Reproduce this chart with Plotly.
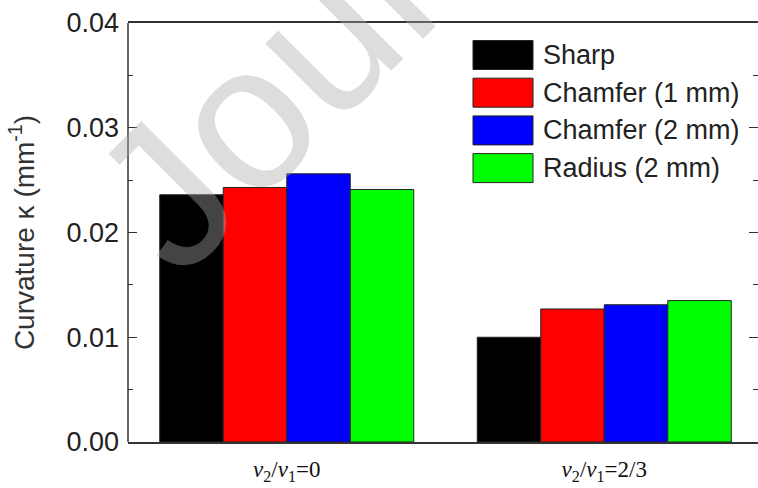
import plotly.graph_objects as go

# Data
categories = ["v2/v1=0", "v2/v1=2/3"]
tick_labels = ["<i>v</i><sub>2</sub>/<i>v</i><sub>1</sub>=0",
               "<i>v</i><sub>2</sub>/<i>v</i><sub>1</sub>=2/3"]
series_names = ["Sharp", "Chamfer (1 mm)", "Chamfer (2 mm)", "Radius (2 mm)"]
sharp = [0.0236, 0.0100]
chamfer_1mm = [0.0243, 0.0127]
chamfer_2mm = [0.0256, 0.0131]
radius_2mm = [0.0241, 0.0135]
colors = ["#000000", "#ff0000", "#0000ff", "#00ff00"]

W, H = 758, 488
ML, MR, MT, MB = 128, 0, 23, 46
PW, PH = W - ML - MR, H - MT - MB


def px(x):
    return (x - ML) / PW


def py(y):
    return (H - MB - y) / PH


fig = go.Figure()
for name, vals, col in zip(series_names, [sharp, chamfer_1mm, chamfer_2mm, radius_2mm], colors):
    fig.add_trace(go.Bar(
        x=[0, 1], y=vals, name=name, marker=dict(color=col, line=dict(color="#222", width=1)),
        showlegend=False,
    ))

# left frame line (the y axis itself has no line so that only ticks are mirrored)
shapes = [dict(type="line", xref="paper", yref="paper", x0=0, x1=0, y0=0, y1=1,
               line=dict(color="#333", width=1.5))]
annotations = []

# legend boxes
row_centers = [55, 92.7, 130.4, 168.1]
for name, col, yc in zip(series_names, colors, row_centers):
    shapes.append(dict(type="rect", xref="paper", yref="paper",
                       x0=px(473), x1=px(533), y0=py(yc + 14.5), y1=py(yc - 14.5),
                       fillcolor=col, line=dict(color="#222", width=1)))
    annotations.append(dict(xref="paper", yref="paper", x=px(541), y=py(yc),
                            xanchor="left", yanchor="middle", showarrow=False, text=name,
                            font=dict(family="Liberation Sans, Arial", size=27, color="#222")))

# diagonal watermark
annotations.append(dict(xref="paper", yref="paper", x=px(366), y=py(-6), xanchor="center",
                        yanchor="middle", showarrow=False, text="Journal", textangle=-45,
                        font=dict(family="Liberation Sans, Arial", size=205,
                                  color="rgba(170,170,170,0.4)")))

fig.update_layout(
    width=W, height=H,
    margin=dict(l=ML, r=MR, t=MT, b=MB, pad=0),
    paper_bgcolor="white", plot_bgcolor="white",
    barmode="group", bargap=0.2, bargroupgap=0,
    shapes=shapes, annotations=annotations,
    font=dict(family="Liberation Sans, Arial", color="#222"),
)
fig.update_xaxes(
    range=[-0.5, -0.5 + PW / 317.5], tickvals=[0, 1], ticktext=tick_labels,
    ticks="", showline=True, mirror=True, linecolor="#333", linewidth=1.5,
    showgrid=False, zeroline=False,
    tickfont=dict(family="Liberation Serif, Times New Roman", size=23, color="#111"),
    ticklabelstandoff=6,
)
fig.update_yaxes(
    range=[0, 0.04], dtick=0.01, tickformat=".2f",
    ticks="inside", ticklen=9, tickwidth=1.2, tickcolor="#333",
    minor=dict(dtick=0.005, ticks="inside", ticklen=5, tickwidth=1.2, tickcolor="#333"),
    showline=False, mirror="ticks", showgrid=False, zeroline=False,
    tickfont=dict(family="Liberation Sans, Arial", size=27, color="#222"),
    ticklabelstandoff=8,
    title=dict(text="Curvature κ (mm<sup>-1</sup>)", standoff=23,
               font=dict(family="Liberation Sans, Arial", size=28, color="#333")),
)

fig.write_html("out.html")
